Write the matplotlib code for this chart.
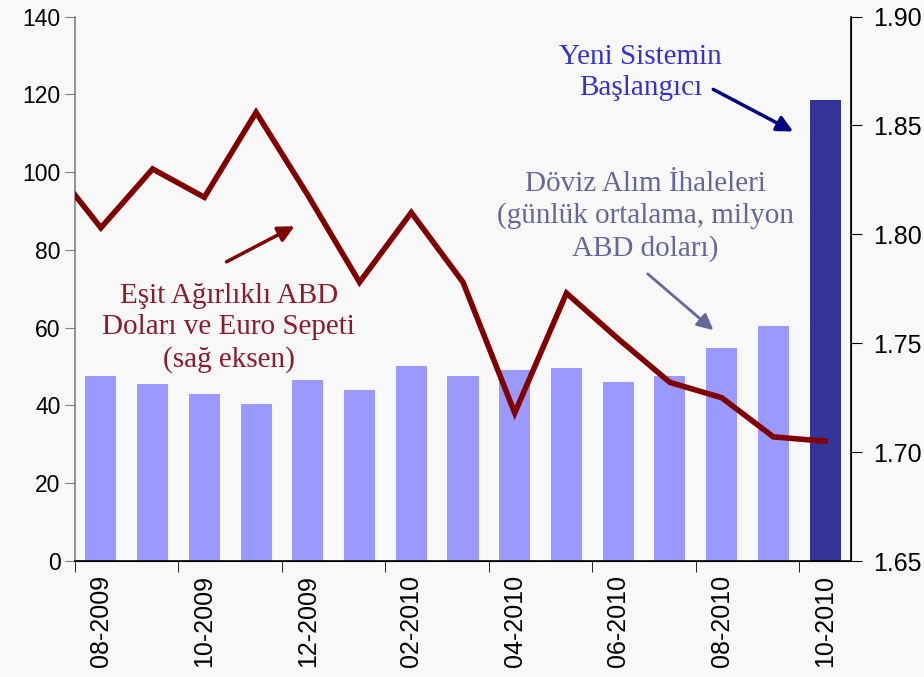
import numpy as np
import matplotlib.pyplot as plt

# monthly data, 08-2009 .. 10-2010
months = ["08-2009", "09-2009", "10-2009", "11-2009", "12-2009", "01-2010",
          "02-2010", "03-2010", "04-2010", "05-2010", "06-2010", "07-2010",
          "08-2010", "09-2010", "10-2010"]
auction = [47.6, 45.5, 42.9, 40.4, 46.5, 44.0, 50.1, 47.6, 49.1, 49.6,
           46.0, 47.6, 54.8, 60.4, 118.5]
# basket starts one month earlier (07-2009), first segment gets clipped
basket = [1.833, 1.803, 1.830, 1.817, 1.856, 1.818, 1.778, 1.810, 1.778,
          1.718, 1.773, 1.752, 1.732, 1.725, 1.707, 1.705]

bg = "#F8F8F8"
plt.rcParams["font.family"] = ["Liberation Sans", "DejaVu Sans"]

fig = plt.figure(figsize=(9.24, 6.77), dpi=100, facecolor=bg)
ax = fig.add_axes([0.0812, 0.1713, 0.8398, 0.8043], facecolor=bg)

x = np.arange(len(months))
colors = ["#9999FF"] * (len(months) - 1) + ["#333399"]
ax.bar(x, auction, width=0.6, color=colors, zorder=2)
ax.set_xlim(-0.5, len(months) - 0.5)
ax.set_ylim(0, 140)
ax.set_yticks(np.arange(0, 141, 20))
ax.tick_params(axis="y", labelsize=16.5, length=7, direction="out",
               color="#808080")

ax.set_xticks(x[::2])
ax.set_xticklabels(months[::2], rotation=90, fontsize=18)
ax.tick_params(axis="x", length=0, pad=10)
ax.set_xticks(x[::2] - 0.5, minor=True)
ax.tick_params(axis="x", which="minor", length=8, direction="out")

ax.spines["top"].set_visible(False)
ax.spines["left"].set_color("#808080")
ax.spines["left"].set_linewidth(1.2)
ax.spines["bottom"].set_linewidth(1.2)

ax2 = ax.twinx()
ax2.plot(np.arange(-1, len(months)), basket, color="#800000", lw=4,
         solid_joinstyle="miter")
ax2.set_ylim(1.65, 1.90)
ax2.set_yticks(np.arange(1.65, 1.901, 0.05))
ax2.set_yticklabels(["%.2f" % v for v in np.arange(1.65, 1.901, 0.05)])
ax2.tick_params(axis="y", labelsize=18, length=8, direction="out", pad=8)
ax2.spines["top"].set_visible(False)
ax2.spines["left"].set_visible(False)
ax2.spines["right"].set_linewidth(1.2)
ax2.set_xlim(-0.5, len(months) - 0.5)

serif = ["Liberation Serif", "DejaVu Serif"]

ax.text(2.47, 60.0, "Eşit Ağırlıklı ABD\nDoları ve Euro Sepeti\n(sağ eksen)",
        ha="center", va="center", fontsize=21, color="#8B1A2B",
        family=serif, linespacing=1.28)
ax.annotate("", xy=(3.79, 86.4), xytext=(2.38, 76.6),
            arrowprops=dict(arrowstyle="-|>", color="#800000", lw=2.5,
                            mutation_scale=24))

ax.text(10.53, 88.6, "Döviz Alım İhaleleri\n(günlük ortalama, milyon\nABD doları)",
        ha="center", va="center", fontsize=21, color="#666699",
        family=serif, linespacing=1.28)
ax.annotate("", xy=(11.88, 58.9), xytext=(10.53, 74.3),
            arrowprops=dict(arrowstyle="-|>", color="#666699", lw=2,
                            mutation_scale=24))

ax.text(10.43, 125.6, "Yeni Sistemin\nBaşlangıcı",
        ha="center", va="center", fontsize=21, color="#3333CC",
        family=serif, linespacing=1.28)
ax.annotate("", xy=(13.43, 110.1), xytext=(11.79, 121.6),
            arrowprops=dict(arrowstyle="-|>", color="#000080", lw=2.5,
                            mutation_scale=24))

fig.savefig("out.png", dpi=100, facecolor=bg)
